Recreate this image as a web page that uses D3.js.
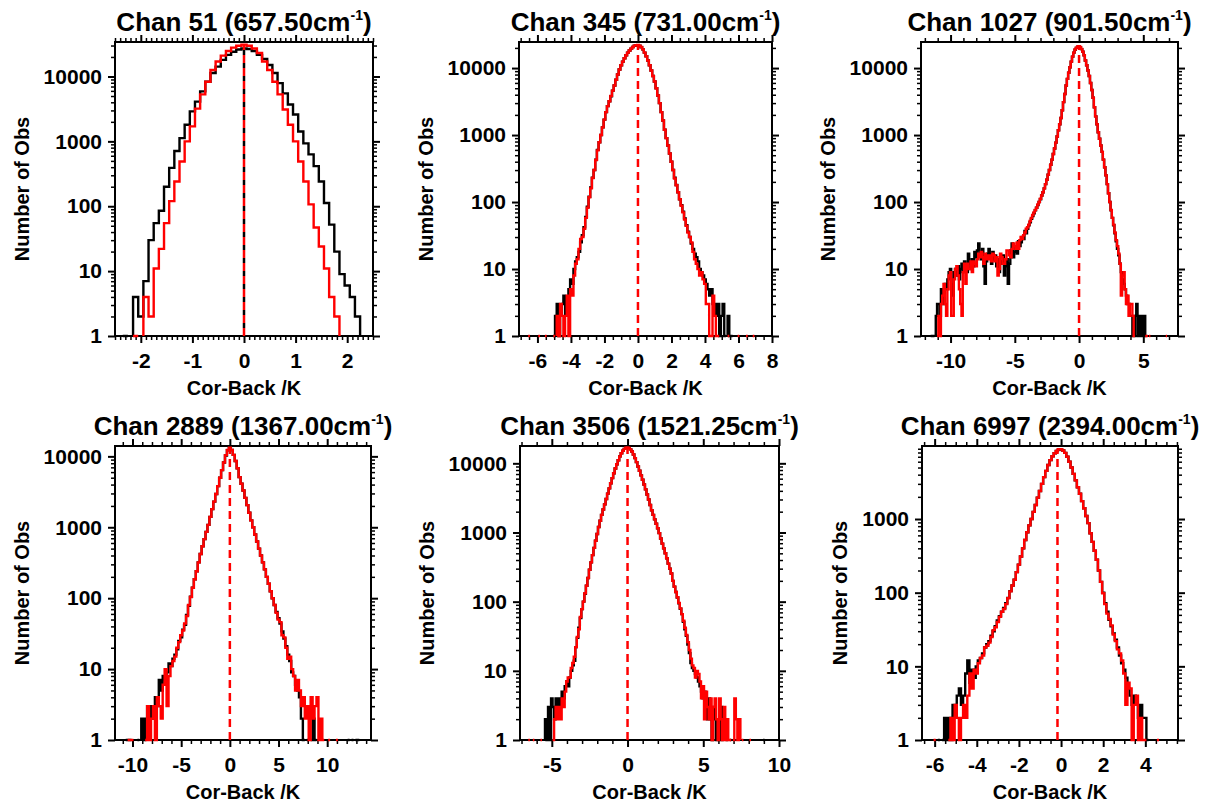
<!DOCTYPE html>
<html lang="en">
<head>
  <meta charset="UTF-8">
  <title>Cor-Back histograms</title>
  <style>
    * { margin: 0; padding: 0; }
    body { background: #fff; }
    svg text { font-family: "Liberation Sans", Arial, Helvetica, sans-serif; font-weight: bold; }
  </style>
  <script src="https://cdn.jsdelivr.net/npm/d3@7"></script>
</head>
<body>
  <svg id="mainsvg" style="display:block"></svg>
  <script>
    // channel / wavenumber of each panel
    const chans = ['51', '345', '1027', '2889', '3506', '6997'];
    const waves = ['657.50', '731.00', '901.50', '1367.00', '1521.25', '2394.00'];

    // histogram bins: centre of first bin and bin width (K)
    const binStart = [-2.4, -6.6, -11.5, -10.8, -6.6, -6.0];
    const binWidth = [0.1, 0.1, 0.1, 0.2, 0.1, 0.1];

    // counts per bin, black and red histograms
    const black51 = [0,1,0,4,2,7,30,55,85,200,390,710,1120,1800,2900,4100,5900,8300,11300,14200,18000,21500,24000,26000,
      27000,26500,24700,21500,18700,15000,11300,7900,5500,3700,2600,1420,930,630,415,240,112,52,20,9,6,4,2,0,0];
    const red51 = [0,0,0,1,0,4,2,11,22,55,120,240,490,1000,1700,3200,5300,8300,12600,17000,21000,24700,27800,29700,
      31000,29700,27000,23000,17000,12600,8300,5300,3100,1800,1000,490,240,107,47,24,11,4,2,0,0,0,0,0,0];

    const black345 = [0,0,0,0,0,0,0,0,0,0,0,0,0,0,0,0,
      1,2,3,1,2,3,4,2,3,5,
      7,6,10,13,15,18,25,32,42,60,
      85,120,165,230,300,430,600,780,1000,1300,
      1700,2200,2700,3200,3800,4600,5500,6700,8000,9500,
      11000,12500,14000,15500,17000,18300,19500,20600,21500,21900,
      22000,21500,20500,19000,17000,15000,13000,11000,9200,7600,
      6300,5000,3900,3000,2200,1650,1200,900,700,530,
      400,300,230,180,140,110,90,72,57,45,
      36,30,24,20,17,15,13,10,9,8,
      7,6,5,4,5,3,3,2,3,1,
      2,3,1,0,2,1,1,
      0,0,0,0,0,0,0,0,0,0,0,0,0,0];
    const red345 = [0,1,0,0,0,0,0,1,0,0,0,1,0,0,0,0,
      1,0,2,1,3,2,1,2,4,1,
      5,4,8,12,14,20,28,30,40,58,
      82,118,160,228,300,425,590,780,1000,1300,
      1700,2200,2700,3200,3850,4600,5500,6700,8000,9500,
      11000,12500,14000,15500,17000,18300,19500,20600,21600,22000,
      22200,21600,20600,19000,17000,15000,13000,11000,9200,7600,
      6300,5000,3900,3000,2200,1650,1200,900,700,530,
      400,300,225,178,140,110,88,70,55,44,
      35,30,25,18,14,12,10,8,9,7,
      6,3,3,1,1,4,2,1,1,0,
      0,0,0,0,1,0,0,
      0,0,0,1,0,0,0,0,1,0,0,0,1,0];

    const black1027 = [1,1,1,0,2,3,3,2,5,4,
      3,6,5,7,9,10,6,4,9,10,
      8,11,7,10,12,9,13,11,9,17,
      12,10,14,11,18,15,19,24,16,14,
      20,11,6,13,17,20,15,12,18,14,
      16,11,14,9,12,13,16,8,11,14,
      6,12,19,24,15,18,21,17,26,22,
      25,30,28,37,34,40,45,50,56,62,
      68,75,82,90,100,110,125,140,160,185,
      215,255,300,360,430,520,630,770,950,1180,
      1450,1800,2350,3100,4100,5500,6900,8500,10300,12500,
      14800,17000,18800,20000,20800,
      21000,20500,19200,17500,15500,13000,11000,9200,7600,6000,
      4700,3600,2600,1900,1450,1100,880,700,560,430,
      330,250,185,135,100,75,58,45,34,26,
      20,16,12,9,7,6,5,4,3,3,
      2,2,1,1,2,3,1,2,1,2,
      1,2,1,
      0,0,0,0,0,0,0,0,0,0,0,0,0,0,0,0,0,0];
    const red1027 = [0,0,0,0,0,1,2,1,3,4,
      6,3,2,5,8,9,2,2,7,10,
      11,8,5,3,2,9,12,6,12,10,
      10,13,9,13,12,11,14,17,15,18,
      15,12,17,14,16,14,16,13,17,16,
      13,15,8,10,17,15,12,12,14,19,
      19,16,15,20,24,22,20,25,20,27,
      30,28,32,35,40,42,46,52,58,64,
      70,76,82,92,100,112,125,140,160,185,
      215,255,300,360,430,520,630,770,950,1180,
      1450,1800,2350,3100,4100,5500,6900,8500,10300,12500,
      14800,17000,18900,20100,20900,
      21200,20600,19300,17500,15500,13000,11000,9200,7600,6000,
      4700,3600,2600,1900,1450,1100,880,700,560,430,
      330,250,185,135,100,76,58,46,35,27,
      22,17,12,4,8,9,5,3,4,2,
      3,3,2,1,0,0,0,0,0,0,
      0,0,1,
      1,0,1,0,0,0,0,0,0,0,0,0,0,0,0,1,0,0];

    const black2889 = [0,1,1,1,0,0,0,1,0,2,
      1,2,3,3,2,3,4,3,7,5,
      8,7,9,12,11,14,16,19,25,28,
      36,42,58,78,105,140,185,240,320,420,
      540,680,860,1080,1400,1800,2300,2950,3800,5000,
      6400,8200,10300,12200,
      13200,12300,10500,8600,6800,5100,4100,3300,2600,2050,
      1600,1250,1000,790,630,500,400,320,255,200,
      160,125,100,80,64,52,44,34,27,21,
      16,13,9,8,6,5,4,2,1,0,
      1,0,1,2,1,0,0,0,0,0,
      0,0,0,0,0,0,0,0,0,0,
      0,1,0,1,0,1,1,0,0];
    const red2889 = [0,0,1,1,1,0,0,0,0,0,
      0,1,3,1,2,3,1,4,3,2,
      6,10,3,8,11,13,15,20,24,30,
      35,44,56,80,104,140,185,240,320,420,
      540,680,860,1080,1400,1800,2300,2950,3800,5000,
      6400,8200,10400,12300,
      13300,12300,10500,8600,6800,5100,4100,3300,2600,2050,
      1600,1250,1000,790,630,500,400,320,255,200,
      160,125,100,80,62,50,46,30,28,20,
      14,15,10,8,5,7,5,3,4,2,
      3,1,4,2,3,4,1,2,1,0,
      0,1,0,0,0,1,0,0,0,0,
      0,0,0,0,0,0,0,0,0];

    const black3506 = [0,0,0,0,0,0,0,0,0,0,0,0,
      2,1,3,1,4,3,2,4,3,4,
      3,5,4,6,7,6,8,10,12,14,
      22,30,42,58,78,100,130,170,220,290,
      370,470,600,760,950,1200,1480,1800,2150,2550,
      3050,3650,4350,5150,6100,7200,8400,9700,11100,12600,
      14000,15200,16200,16800,
      17000,16700,15900,14800,13400,11900,10400,9000,7800,6700,
      5800,4950,4200,3550,3000,2500,2100,1800,1550,1340,
      1150,980,820,690,590,500,425,355,300,255,
      200,165,138,115,95,79,66,51,40,32,
      24,18,13,11,10,9,8,7,6,5,
      4,5,3,2,4,2,1,3,2,1,
      2,1,3,1,0,2,1,0,1,0,
      0,0,0,0,0,0,0,0,0,0,
      0,0,0,0,0,0,0,0,0,0,
      1];
    const red3506 = [0,1,0,0,1,0,0,0,0,1,0,0,
      0,0,0,0,0,1,2,3,2,3,
      2,4,3,5,7,8,8,11,13,16,
      22,31,40,60,78,100,132,170,220,290,
      370,470,600,760,950,1200,1480,1800,2150,2550,
      3050,3650,4350,5150,6100,7200,8400,9700,11100,12600,
      14000,15200,16200,16800,
      17000,16700,15900,14800,13400,11900,10400,9000,7800,6700,
      5800,4950,4200,3550,3000,2500,2100,1800,1550,1340,
      1150,980,820,690,590,500,425,355,300,255,
      200,165,138,116,96,80,66,53,42,33,
      26,20,15,12,11,8,10,9,7,4,
      6,2,5,3,2,4,1,3,4,2,
      1,4,2,1,3,1,2,1,1,0,
      1,4,2,1,2,0,1,0,0,0,
      0,1,0,0,0,0,0,0,0,0,
      0];

    const black6997 = [0,0,1,0,1,2,1,2,1,3,
      2,4,5,3,4,8,12,6,9,7,
      10,12,13,15,18,20,22,26,30,35,
      42,48,55,62,72,85,105,125,150,190,
      240,310,400,520,660,820,1000,1250,1550,1950,
      2400,3000,3700,4500,5400,6300,7100,7800,8400,8800,
      8800,8500,7900,7000,6000,5000,4100,3350,2700,2200,
      1750,1400,1100,880,640,490,370,280,200,140,
      100,72,55,43,35,28,23,18,14,11,
      9,7,5,4,3,4,3,2,3,2,
      2,1,0,0,0,0,0,0,0];
    const red6997 = [1,0,0,0,0,0,0,1,2,1,
      3,2,1,2,3,2,4,8,5,9,
      8,11,13,14,18,19,21,25,31,34,
      40,47,55,60,70,84,104,125,150,190,
      240,310,400,520,660,820,1000,1250,1550,1950,
      2400,3000,3700,4500,5400,6300,7100,7800,8400,8850,
      8850,8500,7900,7000,6000,5000,4100,3350,2700,2200,
      1750,1400,1100,880,640,490,370,280,200,140,
      98,70,52,44,36,27,22,17,15,12,
      8,3,6,5,1,3,4,1,2,1,
      1,0,0,0,0,0,1,0,0];

    const blackCounts = [black51, black345, black1027, black2889, black3506, black6997];
    const redCounts = [red51, red345, red1027, red2889, red3506, red6997];

    // mean lines (dashed)
    const redMean = [0, 0, 0, 0, 0, -0.17];
    const blackMean = [0, null, null, null, null, null];

    // axis ranges and ticks
    const xDomain = [[-2.5, 2.5], [-7.1, 8], [-12.3, 7.7], [-11.8, 14.5], [-7.1, 10], [-6.6, 5.55]];
    const yTop = [34000, 24500, 24500, 14000, 17800, 9800];
    const xMajorStep = [1, 2, 5, 5, 5, 2];
    const xMinorStep = [0.1, 0.5, 1, 1, 1, 0.5];
    const yTickVals = [1, 10, 100, 1000, 10000];

    const width = 1212, height = 803;
    const svg = d3.select('#mainsvg').attr('width', width).attr('height', height);

    // plot boxes [left, top, right, bottom]
    const boxes = [
      [115, 42, 373, 336], [519, 42, 772, 336], [921, 42, 1178, 336],
      [115, 446, 371, 740], [520, 446, 779, 740], [922, 446, 1178, 740]
    ];

    function stepTicks(lo, hi, s) {
      return d3.range(Math.ceil(lo / s - 1e-9), Math.floor(hi / s + 1e-9) + 1).map(k => +(k * s).toFixed(4));
    }

    // histogram drawn IDL-style: zero bins leave a gap, edges drop to the axis
    function histPath(start, w, vals, x, y) {
      const base = y(1);
      let d = '', prev = 0;
      vals.forEach((v, i) => {
        const xa = x(start + (i - 0.5) * w), xb = x(start + (i + 0.5) * w);
        if (v > 0) {
          const yy = y(v);
          d += prev > 0 ? `L${xa},${yy}` : `M${xa},${base}L${xa},${yy}`;
          d += `L${xb},${yy}`;
        } else if (prev > 0) {
          d += `L${xa},${base}`;
        }
        prev = v;
      });
      if (prev > 0) d += `L${x(start + (vals.length - 0.5) * w)},${base}`;
      return d;
    }

    function styleAxis(sel, lw) {
      sel.select('.domain').remove();
      sel.attr('font-size', 21).attr('font-family', '"Liberation Sans", Arial, sans-serif');
      sel.selectAll('line').attr('stroke', '#000').attr('stroke-width', lw);
      sel.selectAll('text').attr('fill', '#000');
    }

    chans.forEach((ch, i) => {
      const [l, t, r, b] = boxes[i];
      const x = d3.scaleLinear().domain(xDomain[i]).range([l, r]);
      const y = d3.scaleLog().domain([1, yTop[i]]).range([b, t]);
      const g = svg.append('g');

      const xMaj = stepTicks(xDomain[i][0], xDomain[i][1], xMajorStep[i]);
      const xMin = stepTicks(xDomain[i][0], xDomain[i][1], xMinorStep[i]).filter(v => !xMaj.includes(v));
      const yMaj = yTickVals.filter(v => v <= yTop[i]);
      const yMin = [];
      for (let e = 0; e < 5; e++) for (let m = 2; m <= 9; m++) {
        const v = m * Math.pow(10, e);
        if (v <= yTop[i]) yMin.push(v);
      }

      // ticks on all four sides, pointing outward
      g.append('g').attr('transform', `translate(0,${b})`)
        .call(d3.axisBottom(x).tickValues(xMin).tickSize(4).tickFormat(''))
        .call(s => styleAxis(s, 1.5));
      g.append('g').attr('transform', `translate(0,${b})`)
        .call(d3.axisBottom(x).tickValues(xMaj).tickSize(7).tickPadding(10).tickFormat(d => String(d)))
        .call(s => styleAxis(s, 2));
      g.append('g').attr('transform', `translate(0,${t})`)
        .call(d3.axisTop(x).tickValues(xMin).tickSize(4).tickFormat(''))
        .call(s => styleAxis(s, 1.5));
      g.append('g').attr('transform', `translate(0,${t})`)
        .call(d3.axisTop(x).tickValues(xMaj).tickSize(7).tickFormat(''))
        .call(s => styleAxis(s, 2));

      g.append('g').attr('transform', `translate(${l},0)`)
        .call(d3.axisLeft(y).tickValues(yMin).tickSize(4).tickFormat(''))
        .call(s => styleAxis(s, 1.5));
      g.append('g').attr('transform', `translate(${l},0)`)
        .call(d3.axisLeft(y).tickValues(yMaj).tickSize(7).tickPadding(6).tickFormat(d => String(d)))
        .call(s => styleAxis(s, 2));
      g.append('g').attr('transform', `translate(${r},0)`)
        .call(d3.axisRight(y).tickValues(yMin).tickSize(4).tickFormat(''))
        .call(s => styleAxis(s, 1.5));
      g.append('g').attr('transform', `translate(${r},0)`)
        .call(d3.axisRight(y).tickValues(yMaj).tickSize(7).tickFormat(''))
        .call(s => styleAxis(s, 2));

      g.append('rect')
        .attr('x', l).attr('y', t).attr('width', r - l).attr('height', b - t)
        .attr('fill', 'none').attr('stroke', '#000').attr('stroke-width', 2);

      // clip
      g.append('clipPath').attr('id', 'clip' + i)
        .append('rect').attr('x', l).attr('y', t - 1).attr('width', r - l).attr('height', b - t + 3);
      const plot = g.append('g').attr('clip-path', `url(#clip${i})`);

      plot.append('path')
        .attr('d', histPath(binStart[i], binWidth[i], blackCounts[i], x, y))
        .attr('fill', 'none').attr('stroke', '#000').attr('stroke-width', 2.4);
      plot.append('path')
        .attr('d', histPath(binStart[i], binWidth[i], redCounts[i], x, y))
        .attr('fill', 'none').attr('stroke', '#ff0000').attr('stroke-width', 2.4);

      const peak = d3.max(redCounts[i]);
      if (blackMean[i] !== null) {
        plot.append('line')
          .attr('x1', x(blackMean[i])).attr('x2', x(blackMean[i]))
          .attr('y1', y(1)).attr('y2', y(d3.max(blackCounts[i])))
          .attr('stroke', '#000').attr('stroke-width', 2.5)
          .attr('stroke-dasharray', '5,8').attr('stroke-dashoffset', -8);
      }
      plot.append('line')
        .attr('x1', x(redMean[i])).attr('x2', x(redMean[i]))
        .attr('y1', y(1)).attr('y2', y(peak))
        .attr('stroke', '#ff0000').attr('stroke-width', 2.5)
        .attr('stroke-dasharray', '8,5');

      // title with superscript
      const title = g.append('text')
        .attr('x', (l + r) / 2).attr('y', t - 11)
        .attr('text-anchor', 'middle').attr('font-size', 26);
      title.append('tspan').text(`Chan ${ch} (${waves[i]}cm`);
      title.append('tspan').attr('font-size', 14).attr('dy', -11).text('-1');
      title.append('tspan').attr('font-size', 26).attr('dy', 11).text(')');

      g.append('text')
        .attr('x', (l + r) / 2).attr('y', b + 59)
        .attr('text-anchor', 'middle').attr('font-size', 20)
        .text('Cor-Back /K');

      const digits = d3.max(yMaj, v => String(v).length);
      const ty = (t + b) / 2, tx = l - (31 + 11.1 * digits);
      g.append('text')
        .attr('transform', `translate(${tx},${ty}) rotate(-90)`)
        .attr('text-anchor', 'middle').attr('font-size', 20)
        .text('Number of Obs');
    });
  </script>
</body>
</html>
